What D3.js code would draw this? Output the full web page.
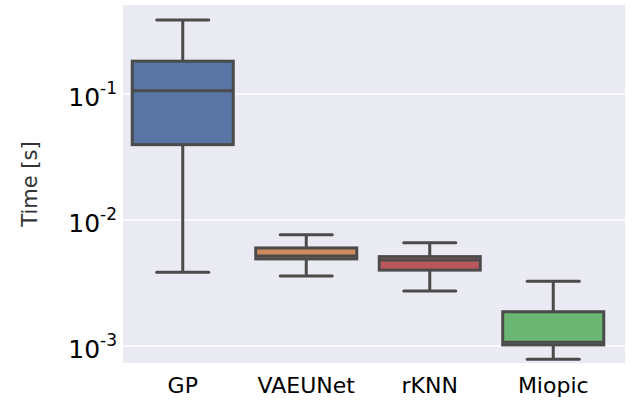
<!DOCTYPE html>
<html>
<head>
<meta charset="utf-8">
<script src="https://cdn.jsdelivr.net/npm/d3@7"></script>
<style>
  html, body { margin: 0; padding: 0; background: #ffffff; }
  svg { display: block; }
</style>
</head>
<body>
<svg id="chart" width="636" height="401"></svg>
<script>
// ---- data ----
const categories = ["GP", "VAEUNet", "rKNN", "Miopic"];
const whiskerLow  = [0.00385, 0.0036, 0.00273, 0.000784];
const q1          = [0.0396, 0.00491, 0.0040, 0.00102];
const medians     = [0.106, 0.00518, 0.00482, 0.00107];
const q3          = [0.182, 0.0060, 0.00512, 0.00187];
const whiskerHigh = [0.386, 0.00764, 0.0066, 0.00326];
const colors      = ["#5975a4", "#d0885e", "#b9585c", "#6bb672"];
const tickValues  = [0.1, 0.01, 0.001];
const tickExps    = ["-1", "-2", "-3"];
const yLabel      = "Time [s]";

const svg = d3.select("#chart");
const plot = { left: 123, right: 625, top: 5, bottom: 363 };

const x = d3.scaleBand().domain(categories).range([121, 615]).paddingInner(0).paddingOuter(0);
const y = d3.scaleLog().domain([0.000733, 0.508]).range([plot.bottom, plot.top]);

// background
svg.append("rect")
  .attr("x", plot.left).attr("y", plot.top)
  .attr("width", plot.right - plot.left).attr("height", plot.bottom - plot.top)
  .attr("fill", "#eaeaf2");

// gridlines
svg.append("g").selectAll("line").data(tickValues).join("line")
  .attr("x1", plot.left).attr("x2", plot.right)
  .attr("y1", d => y(d)).attr("y2", d => y(d))
  .attr("stroke", "#ffffff").attr("stroke-width", 1.6);

// y axis
const yAxis = svg.append("g").attr("transform", `translate(${plot.left - 6},0)`)
  .call(d3.axisLeft(y).tickValues(tickValues).tickSize(0).tickPadding(0).tickFormat(() => ""));
yAxis.select(".domain").remove();
yAxis.selectAll(".tick text").each(function(d, i) {
  const t = d3.select(this);
  t.text(null)
    .attr("font-family", "DejaVu Sans, sans-serif")
    .attr("fill", "#000")
    .attr("dy", 11.5)
    .attr("x", 0)
    .attr("text-anchor", "end");
  t.append("tspan").attr("font-size", 25).text("10");
  t.append("tspan").attr("font-size", 17).attr("dy", -12).text(tickExps[i]);
});

// x axis
const xAxis = svg.append("g").attr("transform", `translate(0,${plot.bottom})`)
  .call(d3.axisBottom(x).tickSize(0).tickPadding(0));
xAxis.select(".domain").remove();
xAxis.selectAll(".tick text")
  .attr("font-family", "DejaVu Sans, sans-serif")
  .attr("font-size", 22)
  .attr("fill", "#000")
  .attr("dy", 0)
  .attr("y", 30);

// y label
svg.append("text")
  .attr("transform", `translate(37,184) rotate(-90)`)
  .attr("text-anchor", "middle")
  .attr("font-family", "DejaVu Sans, sans-serif")
  .attr("font-size", 21)
  .attr("fill", "#333333")
  .text(yLabel);

// boxes
const lineColor = "#4b4b4b";
const lw = 3;
const boxW = x.bandwidth() * 0.818;
const capW = boxW * 0.515;

const g = svg.append("g");
categories.forEach((c, i) => {
  const cx = x(c) + x.bandwidth() / 2;
  // whiskers
  g.append("line").attr("x1", cx).attr("x2", cx)
    .attr("y1", y(q3[i])).attr("y2", y(whiskerHigh[i]))
    .attr("stroke", lineColor).attr("stroke-width", lw);
  g.append("line").attr("x1", cx).attr("x2", cx)
    .attr("y1", y(q1[i])).attr("y2", y(whiskerLow[i]))
    .attr("stroke", lineColor).attr("stroke-width", lw);
  // caps
  [whiskerHigh[i], whiskerLow[i]].forEach(v => {
    g.append("line").attr("x1", cx - capW / 2).attr("x2", cx + capW / 2)
      .attr("y1", y(v)).attr("y2", y(v))
      .attr("stroke", lineColor).attr("stroke-width", lw).attr("stroke-linecap", "round");
  });
  // box
  g.append("rect")
    .attr("x", cx - boxW / 2).attr("width", boxW)
    .attr("y", y(q3[i])).attr("height", y(q1[i]) - y(q3[i]))
    .attr("fill", colors[i])
    .attr("stroke", lineColor).attr("stroke-width", lw);
  // median
  g.append("line").attr("x1", cx - boxW / 2).attr("x2", cx + boxW / 2)
    .attr("y1", y(medians[i])).attr("y2", y(medians[i]))
    .attr("stroke", lineColor).attr("stroke-width", lw);
});
</script>
</body>
</html>
